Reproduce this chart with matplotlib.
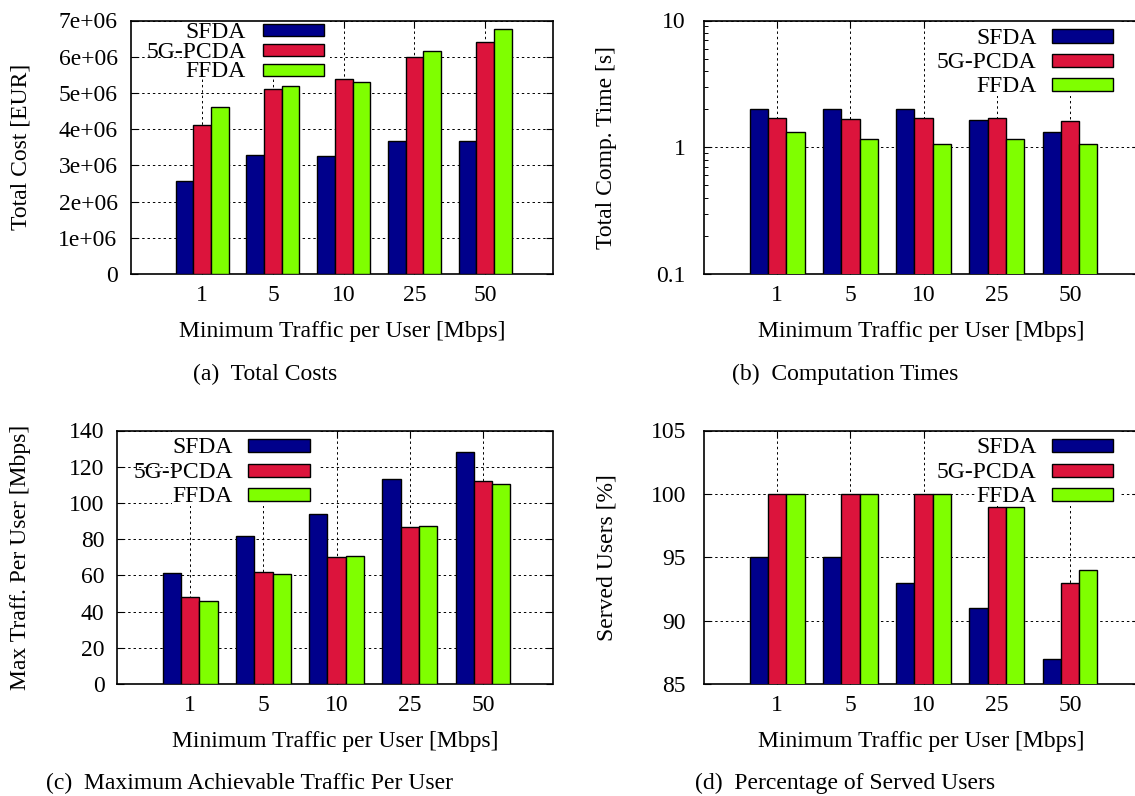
import matplotlib
matplotlib.use('Agg')
import matplotlib.pyplot as plt
from matplotlib.patches import Rectangle
from matplotlib.ticker import FixedLocator, FixedFormatter, NullFormatter
import numpy as np

plt.rcParams['font.family'] = ['Liberation Serif', 'DejaVu Serif']
plt.rcParams['font.size'] = 17

# data
categories = ['1', '5', '10', '25', '50']
series = ['SFDA', '5G-PCDA', 'FFDA']
colors = ['#00008b', '#dc143c', '#7fff00']

cost_sfda = [2.57e6, 3.28e6, 3.25e6, 3.66e6, 3.66e6]
cost_5g = [4.12e6, 5.12e6, 5.38e6, 5.98e6, 6.42e6]
cost_ffda = [4.61e6, 5.19e6, 5.30e6, 6.15e6, 6.76e6]
cost_ticks = [0, 1e6, 2e6, 3e6, 4e6, 5e6, 6e6, 7e6]
cost_labels = ['0', '1e+06', '2e+06', '3e+06', '4e+06', '5e+06', '6e+06', '7e+06']

time_sfda = [1.99, 1.99, 1.99, 1.63, 1.31]
time_5g = [1.71, 1.66, 1.70, 1.69, 1.62]
time_ffda = [1.31, 1.16, 1.07, 1.17, 1.06]
time_ticks = [0.1, 1, 10]
time_labels = ['0.1', '1', '10']

traffic_sfda = [61.5, 81.9, 93.9, 113.4, 128.1]
traffic_5g = [48.0, 62.1, 70.4, 86.7, 112.3]
traffic_ffda = [45.6, 61.0, 70.9, 87.5, 110.2]
traffic_ticks = [0, 20, 40, 60, 80, 100, 120, 140]

served_sfda = [95, 95, 93, 91, 87]
served_5g = [100, 100, 100, 99, 93]
served_ffda = [100, 100, 100, 99, 94]
served_ticks = [85, 90, 95, 100, 105]

xlabel = 'Minimum Traffic per User [Mbps]'

W, H = 1135, 796
fig = plt.figure(figsize=(W / 100, H / 100), dpi=100)


def panel(box, data, ylabel, ylab_x, ypad, key):
    l, t, r, b = box
    ax = fig.add_axes([l / W, 1 - b / H, (r - l) / W, (b - t) / H])
    x = np.arange(len(categories))
    for i, vals in enumerate(data):
        ax.bar(x + (i - 1) * 0.25, vals, width=0.25, color=colors[i],
               edgecolor='black', linewidth=1.0, zorder=3)
    ax.set_xlim(-1, 4.95)
    ax.set_xticks(x)
    ax.set_xticklabels(categories)
    ax.set_axisbelow(True)
    ax.grid(True, which='major', linestyle=(0, (2.5, 3)), color='black', linewidth=0.7)
    ax.tick_params(which='major', direction='in', length=5, width=0.8, top=True, right=True)
    ax.tick_params(which='minor', direction='in', length=3, width=0.7, top=True, right=True)
    ax.tick_params(axis='x', pad=8)
    ax.tick_params(axis='y', pad=ypad)
    for s in ax.spines.values():
        s.set_linewidth(1.2)
    ax.set_xlabel(xlabel, va='center')
    ax.xaxis.set_label_coords(0.5, -58 / (b - t))
    ax.set_ylabel(ylabel, va='center', ha='center')
    ax.yaxis.set_label_coords((ylab_x - l) / (r - l), 0.5)

    # key: right aligned labels, swatches, opaque white box
    text_r, sw0, sw1, rows, sw_h, bg = key
    fx = lambda px: (px - l) / (r - l)
    fy = lambda py: (b - py) / (b - t)
    ax.add_patch(Rectangle((fx(bg[0]), fy(bg[3])), fx(bg[2]) - fx(bg[0]), fy(bg[1]) - fy(bg[3]),
                           transform=ax.transAxes, facecolor='white', edgecolor='none',
                           zorder=2.5, clip_on=True))
    for i, name in enumerate(series):
        ax.text(fx(text_r), fy(rows[i] + 7.5), name, transform=ax.transAxes,
                ha='right', va='baseline', zorder=5)
        ax.add_patch(Rectangle((fx(sw0), fy(rows[i] + sw_h / 2)), fx(sw1) - fx(sw0),
                               fy(rows[i] - sw_h / 2) - fy(rows[i] + sw_h / 2),
                               transform=ax.transAxes, facecolor=colors[i],
                               edgecolor='black', linewidth=1.0, zorder=5))
    return ax


ax_a = panel((131.4, 20.5, 552.5, 274), [cost_sfda, cost_5g, cost_ffda],
             'Total Cost [EUR]', 21, 10,
             (246, 263, 324, [30.3, 50, 69.7], 12, (185, 20.5, 330, 78)))
ax_a.set_ylim(0, 7e6)
ax_a.yaxis.set_major_locator(FixedLocator(cost_ticks))
ax_a.yaxis.set_major_formatter(FixedFormatter(cost_labels))

ax_b = panel((704, 20.5, 1139.5, 274), [time_sfda, time_5g, time_ffda],
             'Total Comp. Time [s]', 606.5, 13,
             (1036.6, 1052, 1112.7, [36, 60.3, 84.7], 13, (975, 20.5, 1120, 96)))
ax_b.set_yscale('log', nonpositive='clip')
ax_b.set_ylim(0.1, 10)
ax_b.yaxis.set_major_locator(FixedLocator(time_ticks))
ax_b.yaxis.set_major_formatter(FixedFormatter(time_labels))
ax_b.yaxis.set_minor_formatter(NullFormatter())

ax_c = panel((117, 430.5, 552.5, 684), [traffic_sfda, traffic_5g, traffic_ffda],
             'Max Traff. Per User [Mbps]', 21, 9,
             (233, 248, 310, [446, 470.3, 494.7], 13, (172, 430.5, 318, 506)))
ax_c.set_ylim(0, 140)
ax_c.set_yticks(traffic_ticks)

ax_d = panel((704, 430.5, 1139.5, 684), [served_sfda, served_5g, served_ffda],
             'Served Users [%]', 606.5, 13,
             (1036.6, 1052, 1112.7, [446, 470.3, 494.7], 13, (975, 430.5, 1120, 506)))
ax_d.set_ylim(85, 105)
ax_d.set_yticks(served_ticks)

fig.text(265 / W, 1 - 374 / H, '(a)  Total Costs', ha='center', va='center')
fig.text(845 / W, 1 - 374 / H, '(b)  Computation Times', ha='center', va='center')
fig.text(250 / W, 1 - 783 / H, '(c)  Maximum Achievable Traffic Per User', ha='center', va='center')
fig.text(845 / W, 1 - 783 / H, '(d)  Percentage of Served Users', ha='center', va='center')

fig.savefig('out.png', dpi=100)
